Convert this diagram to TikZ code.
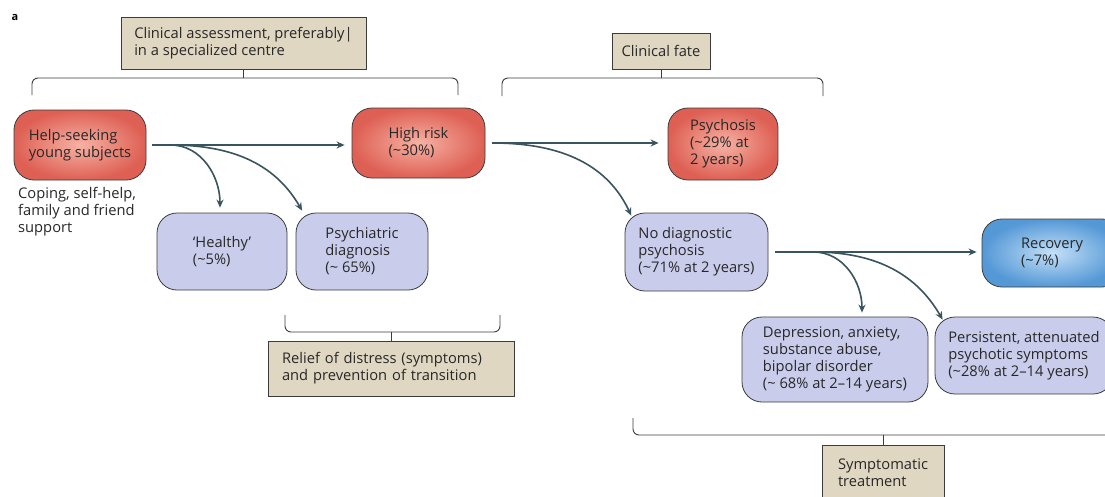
\documentclass[tikz,border=0pt]{standalone}
\usepackage{fontspec}
\setmainfont{Open Sans}
\usetikzlibrary{arrows.meta,calc,positioning}
\definecolor{riskin}{RGB}{246,178,164}
\definecolor{riskout}{RGB}{222,96,84}
\definecolor{recin}{RGB}{196,224,247}
\definecolor{recout}{RGB}{84,152,214}
\definecolor{lav}{RGB}{201,205,235}
\definecolor{tan}{RGB}{224,215,194}
\definecolor{flowcol}{RGB}{58,84,94}
\definecolor{edgecol}{RGB}{60,60,60}
\definecolor{txtcol}{RGB}{40,40,40}

\tikzset{
  stage/.style={draw=edgecol,line width=0.8pt,rounded corners=20pt,inner sep=0pt,
    align=left,text=txtcol,font=\fontsize{14.7}{17}\selectfont},
  riskbox/.style={stage,shading=radial,inner color=riskin,outer color=riskout},
  recbox/.style={stage,shading=radial,inner color=recin,outer color=recout},
  outbox/.style={stage,fill=lav},
  notebox/.style={draw=edgecol,line width=0.8pt,fill=tan,inner sep=0pt,
    align=left,text=txtcol,font=\fontsize{14.7}{17}\selectfont},
  flow/.style={draw=flowcol,line width=1.6pt,-{Stealth[length=8pt,width=7pt]}},
  bracket/.style={draw=edgecol,line width=0.9pt,rounded corners=6pt}
}

\begin{document}
\begin{tikzpicture}[x=1pt,y=-1pt]
  \clip (0,0) rectangle (1105,496);
  \fill[white] (0,0) rectangle (1105,496);
  \node[font=\bfseries\fontsize{11}{11}\selectfont] (tag) at (15,17) {a};

  % assessment and fate notes
  \node[notebox,minimum width=245pt,minimum height=52pt] (assess) at (243.5,43)
    {Clinical assessment, preferably|\\in a specialized centre};
  \node[notebox,minimum width=98pt,minimum height=36pt,align=center] (fate) at (661,51)
    {Clinical fate};
  \draw[bracket] (32,95) -- (32,78) -- (458,78) -- (458,95);
  \draw[bracket] (assess.south) -- (assess.south |- 0,78);
  \draw[bracket] (502,96) -- (502,78) -- (823,78) -- (823,96);
  \draw[bracket] (fate.south) -- (fate.south |- 0,78);

  % stages
  \node[riskbox,minimum width=132pt,minimum height=70pt] (help) at (80,145)
    {Help-seeking\\young subjects};
  \node[riskbox,minimum width=133pt,minimum height=70pt] (high) at (418.5,143)
    {High risk\\(\textasciitilde30\%)};
  \node[riskbox,minimum width=110pt,minimum height=72pt] (psychosis) at (723,144)
    {Psychosis\\(\textasciitilde29\% at\\2 years)};
  \node[anchor=north west,align=left,text=txtcol,inner sep=0pt,
    font=\fontsize{14.7}{17}\selectfont] (coping) at (18,187)
    {Coping, self-help,\\family and friend\\support};

  \node[outbox,minimum width=130pt,minimum height=77pt] (healthy) at (222,251.5)
    {`Healthy'\\(\textasciitilde5\%)};
  \node[outbox,minimum width=132pt,minimum height=77pt] (psych) at (362,251.5)
    {Psychiatric\\diagnosis\\(\textasciitilde\ 65\%)};
  \node[outbox,minimum width=143pt,minimum height=78pt] (nodiag) at (696.5,252)
    {No diagnostic\\psychosis\\(\textasciitilde71\% at 2 years)};
  \node[recbox,minimum width=140pt,minimum height=68pt] (recovery) at (1052,253)
    {Recovery\\(\textasciitilde7\%)};
  \node[outbox,minimum width=186pt,minimum height=85pt] (dep) at (835,359.5)
    {Depression, anxiety,\\substance abuse,\\bipolar disorder\\(\textasciitilde\ 68\% at 2--14 years)};
  \node[outbox,minimum width=178pt,minimum height=77pt] (persist) at (1024,355.5)
    {Persistent, attenuated\\psychotic symptoms\\(\textasciitilde28\% at 2--14 years)};

  % transitions
  \draw[flow] ([xshift=6pt]help.east) -- ([xshift=-7pt]high.west |- help.east);
  \draw[flow] ([xshift=24pt]help.east) to[out=0,in=90] ([xshift=-2pt,yshift=5pt]healthy.north);
  \draw[flow] ([xshift=24pt]help.east) to[out=0,in=120] ([yshift=2pt]psych.147);
  \draw[flow] ([xshift=7pt]high.east) -- ([xshift=-9pt]psychosis.west |- high.east);
  \draw[flow] ([xshift=7pt]high.east) to[out=0,in=115] ([xshift=3pt,yshift=-3pt]nodiag.150);
  \draw[flow] ([xshift=7pt]nodiag.east) -- ([xshift=-5pt]recovery.west |- nodiag.east);
  \draw[flow] ([xshift=45pt]nodiag.east) to[out=0,in=90] ([xshift=27pt,yshift=4pt]dep.north);
  \draw[flow] ([xshift=45pt]nodiag.east) to[out=0,in=120] ([xshift=8pt,yshift=-3pt]persist.north west);

  % treatment notes
  \node[notebox,text width=218pt,inner xsep=14pt,minimum height=55pt] (relief) at (391,368.5)
    {Relief of distress (symptoms)\\and prevention of transition};
  \draw[bracket] (285,315) -- (285,332) -- (500,332) -- (500,315);
  \draw[bracket] (relief.north) -- (relief.north |- 0,332);
  \node[notebox,minimum width=122pt,minimum height=55pt] (sympt) at (883,472.5)
    {Symptomatic\\treatment};
  \draw[bracket] (633,418) -- (633,435) -- (1120,435) -- (1120,418);
  \draw[bracket] (sympt.north) -- (sympt.north |- 0,435);
\end{tikzpicture}
\end{document}
